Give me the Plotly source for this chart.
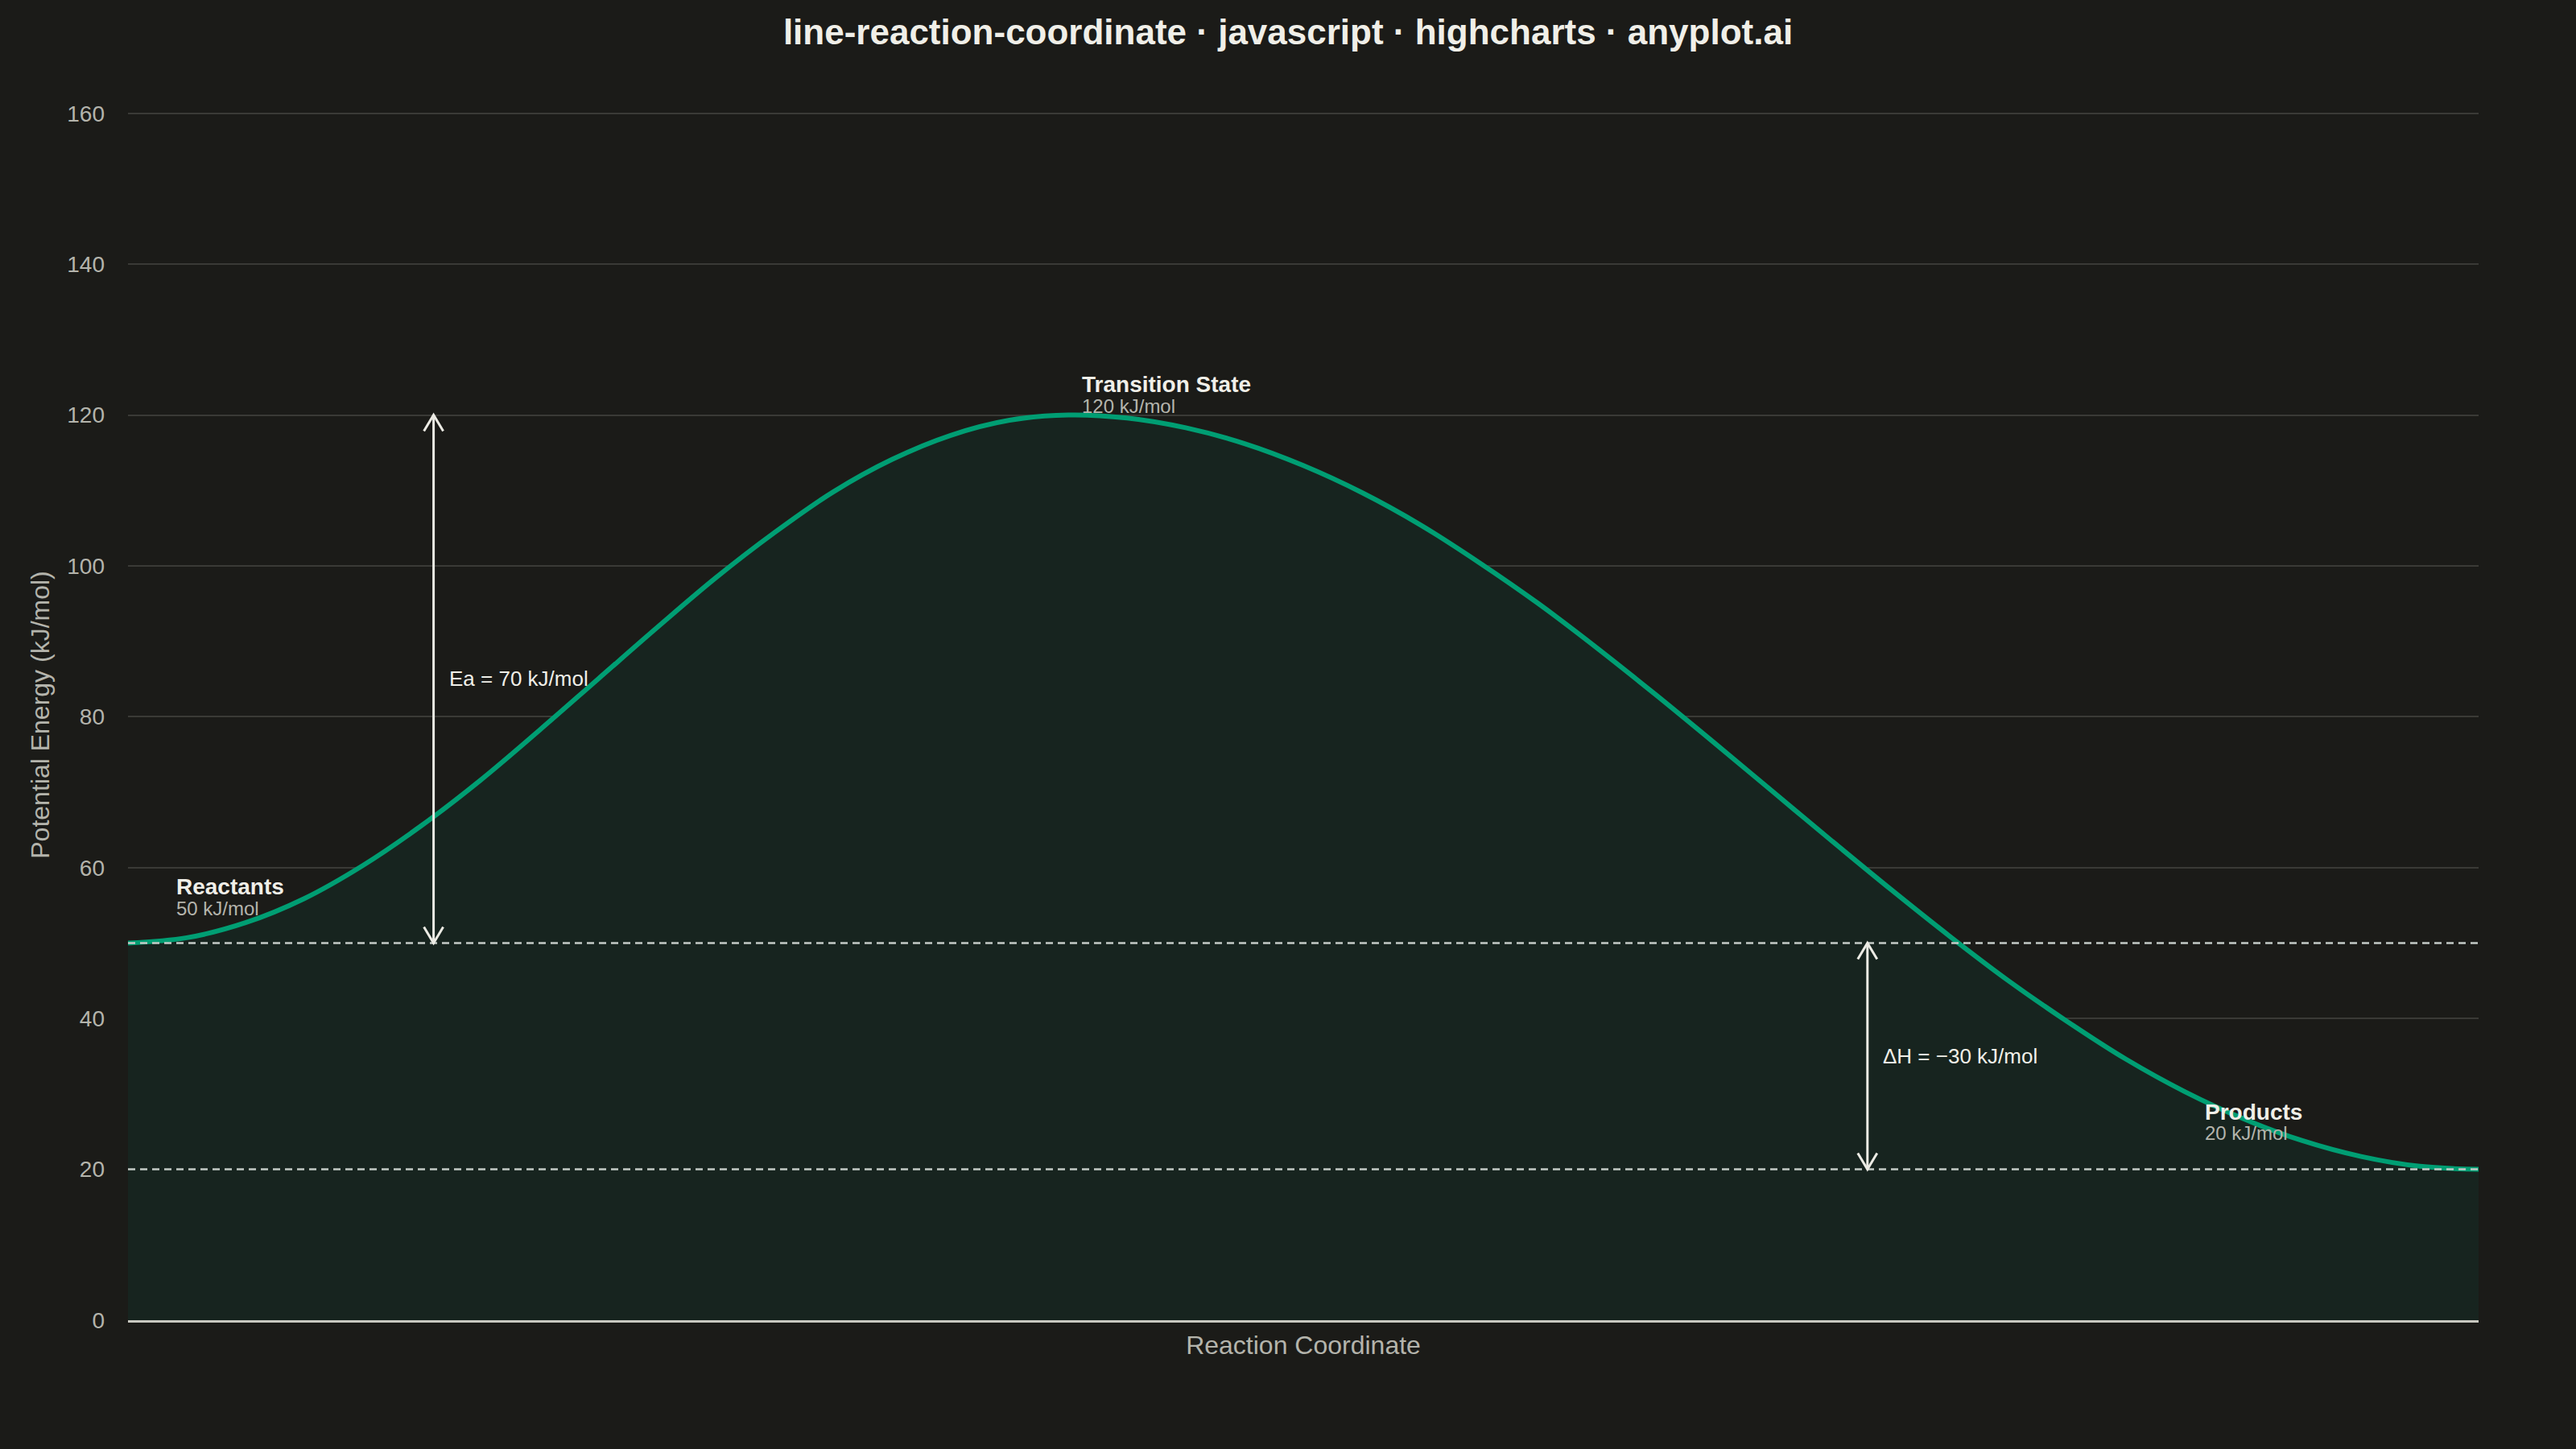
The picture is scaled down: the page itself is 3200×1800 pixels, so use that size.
import plotly.graph_objects as go

# reaction coordinate (0-100) and potential energy
coord = [0, 2.5, 5, 7.5, 10, 12.5, 15, 17.5, 20, 22.5, 25, 27.5, 30, 32.5, 35, 37.5, 40,
         42.5, 45, 47.5, 50, 52.5, 55, 57.5, 60, 62.5, 65, 67.5, 70, 72.5, 75, 77.5, 80,
         82.5, 85, 87.5, 90, 92.5, 95, 97.5, 100]
energy = [50, 50.7, 52.7, 55.9, 60.3, 65.6, 71.6, 78.2, 85, 91.8, 98.4, 104.4, 109.8,
          114.1, 117.3, 119.3, 120,
          119.6, 118.3, 116.2, 113.3, 109.7, 105.4, 100.4, 95, 89.1, 82.9, 76.5, 70,
          63.5, 57.1, 50.9, 45, 39.6, 34.6, 30.3, 26.7, 23.8, 21.7, 20.4, 20]

reactant_e = 50
ts_e = 120
product_e = 20
ea_x = 13
dh_x = 74

bg = "#1b1b18"
line_col = "#009e73"
fill_col = "#17241f"
txt = "#f0efe8"
muted = "#b4b4ac"
ref_col = "#c4cac6"

fig = go.Figure()

fig.add_trace(go.Scatter(
    x=coord, y=energy,
    mode="lines",
    line=dict(color=line_col, width=6, shape="spline", smoothing=1.0),
    fill="tozeroy",
    fillcolor=fill_col,
    hoverinfo="skip",
    showlegend=False,
))

# dashed reference lines for reactant / product energies
for lvl in [reactant_e, product_e]:
    fig.add_shape(type="line", xref="paper", x0=0, x1=1, yref="y", y0=lvl, y1=lvl,
                  line=dict(color=ref_col, width=2.5, dash="9px,6px"), layer="above")

# vertical double arrows
def double_arrow(xv, y_lo, y_hi):
    fig.add_shape(type="line", x0=xv, x1=xv, y0=y_lo, y1=y_hi,
                  line=dict(color="#ecebe4", width=3), layer="above")
    for yv, sign in [(y_hi, 1), (y_lo, -1)]:
        fig.add_shape(type="path", xsizemode="pixel", ysizemode="pixel",
                      xanchor=xv, yanchor=yv,
                      path=f"M -12,{-20 * sign} L 0,0 L 12,{-20 * sign}",
                      line=dict(color="#ecebe4", width=3), layer="above")

double_arrow(ea_x, reactant_e, ts_e)
double_arrow(dh_x, product_e, reactant_e)

font = "Liberation Sans, Arial, sans-serif"

def label(xv, yv, text, size, color, bold=False):
    fig.add_annotation(x=xv, y=yv, text=f"<b>{text}</b>" if bold else text,
                       showarrow=False, xanchor="left", yanchor="middle",
                       font=dict(family=font, size=size, color=color))

label(2.0, 57.5, "Reactants", 28, txt, bold=True)
label(2.0, 54.6, "50 kJ/mol", 24, muted)
label(40.5, 124.1, "Transition State", 28, txt, bold=True)
label(40.5, 121.2, "120 kJ/mol", 24, muted)
label(88.3, 27.6, "Products", 28, txt, bold=True)
label(88.3, 24.8, "20 kJ/mol", 24, muted)
label(13.6, 85, "Ea = 70 kJ/mol", 26, txt)
label(74.6, 35, "ΔH = −30 kJ/mol", 26, txt)

fig.update_layout(
    width=3200, height=1800,
    paper_bgcolor=bg, plot_bgcolor=bg,
    margin=dict(l=159, r=121, t=136, b=160),
    title=dict(text="<b>line-reaction-coordinate · javascript · highcharts · anyplot.ai</b>",
               x=0.5, xanchor="center", y=0.978, yanchor="middle",
               font=dict(family=font, size=44, color=txt)),
    font=dict(family=font, color=muted),
)

fig.update_xaxes(
    range=[0, 100], showgrid=False, showticklabels=False, ticks="",
    zeroline=False, showline=True, linecolor="#c8c8c0", linewidth=3,
    title=dict(text="Reaction Coordinate", standoff=18,
               font=dict(family=font, size=32, color=muted)),
)
fig.update_yaxes(
    range=[0, 160.5], tickvals=[0, 20, 40, 60, 80, 100, 120, 140, 160],
    showgrid=True, gridcolor="#3a3a36", gridwidth=2, zeroline=False,
    showline=False, ticks="", ticklabelstandoff=28,
    tickfont=dict(family=font, size=28, color=muted),
    title=dict(text="Potential Energy (kJ/mol)", standoff=12,
               font=dict(family=font, size=32, color=muted)),
)

fig.write_html("out.html", config={"displayModeBar": False},
               post_script="document.body.style.margin='0';")
